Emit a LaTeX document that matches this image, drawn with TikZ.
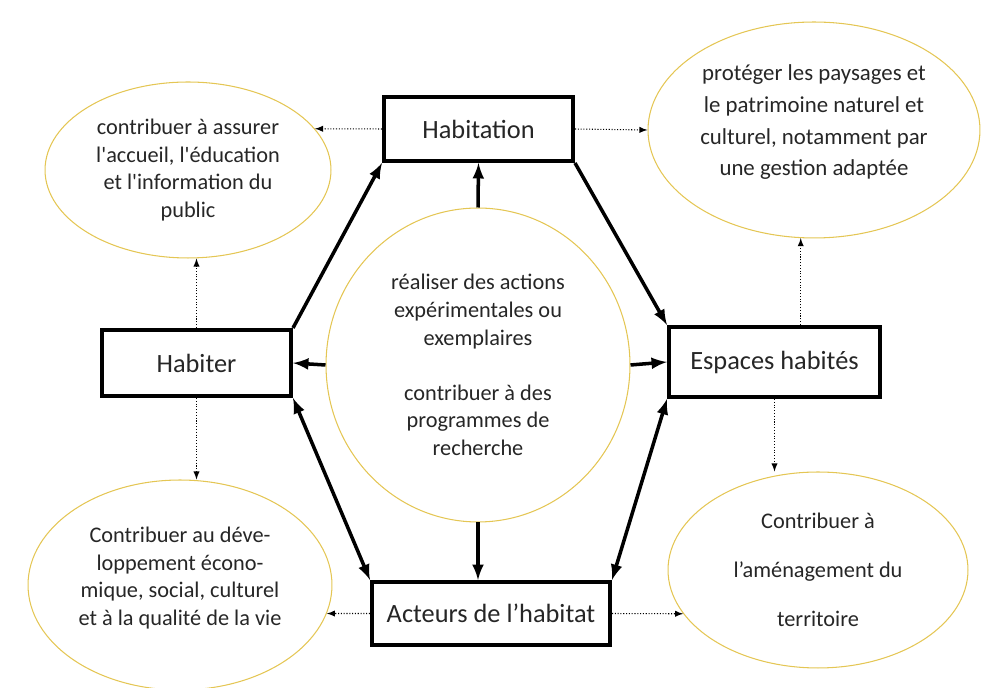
\documentclass[tikz,border=0pt]{standalone}
\usepackage{fontspec}
\setmainfont{Carlito}
\usepackage{tikz}
\usetikzlibrary{arrows}
\usetikzlibrary{shapes.geometric}
\definecolor{goalline}{RGB}{228,198,84}
\definecolor{ink}{RGB}{38,38,38}
\tikzstyle{diagram}=[x=0.02cm, y=-0.02cm, text=ink]
\tikzstyle{box}=[rectangle, draw=black, line width=2.3pt, fill=white, inner sep=0pt, font=\fontsize{15}{18}\selectfont]
\tikzstyle{goal}=[ellipse, draw=goalline, line width=0.6pt, inner sep=0pt, align=center, font=\fontsize{12.7}{15.7}\selectfont]
\tikzstyle{link}=[-latex, line width=2pt]
\tikzstyle{both}=[latex-latex, line width=2pt]
\tikzstyle{hint}=[-latex, densely dotted, line width=0.6pt]

\begin{document}
\begin{tikzpicture}[diagram]
			\useasboundingbox (0,0) rectangle (992,688);
			\draw (188,170) node[goal, minimum width=5.72cm, minimum height=3.52cm] (public) {contribuer à assurer\\l\textquotesingle accueil, l\textquotesingle éducation\\et l\textquotesingle information du\\public};
			\draw (814,130) node[goal, minimum width=6.64cm, minimum height=4.32cm, font=\fontsize{13}{18.1}\selectfont] (paysages) {protéger les paysages et\\le patrimoine naturel et\\culturel, notamment par\\une gestion adaptée\\[-7pt]};
			\draw (478,365) node[goal, minimum width=6.08cm, minimum height=6.28cm] (actions) {réaliser des actions\\expérimentales ou\\exemplaires\\[15.7pt]contribuer à des\\programmes de\\recherche};
			\draw (180,585) node[goal, minimum width=6.08cm, minimum height=4.2cm] (vie) {Contribuer au déve-\\loppement écono-\\mique, social, culturel\\et à la qualité de la vie\\[-5.7pt]};
			\draw (818,570) node[goal, minimum width=6cm, minimum height=3.92cm, font=\fontsize{12.7}{27.8}\selectfont] (territoire) {Contribuer à\\l’aménagement du\\territoire};
			\draw (478.5,129) node[box, minimum width=3.78cm, minimum height=1.28cm] (habitation) {Habitation};
			\draw (196.5,363) node[box, minimum width=3.78cm, minimum height=1.32cm] (habiter) {Habiter};
			\draw (774.5,362) node[box, minimum width=4.22cm, minimum height=1.4cm] (espaces) {Espaces habités};
			\draw (491,613.5) node[box, minimum width=4.76cm, minimum height=1.26cm] (acteurs) {Acteurs de l’habitat};
			\draw[link] (habiter.north east) -- (habitation.south west);
			\draw[link] (habitation.south east) -- (espaces.north west);
			\draw[both] (habiter.south east) -- (acteurs.north west);
			\draw[both] (espaces.south west) -- (acteurs.north east);
			\draw[link] (actions.north) -- (habitation.south);
			\draw[link] (actions.west) -- (habiter.east);
			\draw[link] (actions.east) -- (espaces.west);
			\draw[link] (actions.south) -- (actions.south |- acteurs.north);
			\draw[hint] (habitation.west) -- (public.18);
			\draw[hint] (habitation.east) -- (paysages.west);
			\draw[hint] (habiter.north) -- (habiter.north |- public.south);
			\draw[hint] (habiter.south) -- (habiter.south |- vie.north);
			\draw[hint] (paysages.-97 |- espaces.north) -- (paysages.-97);
			\draw[hint] (espaces.south) -- (espaces.south |- territoire.north);
			\draw[hint] (acteurs.west) -- (vie.-11);
			\draw[hint] (acteurs.east) -- (territoire.-162);
		\end{tikzpicture}
\end{document}
